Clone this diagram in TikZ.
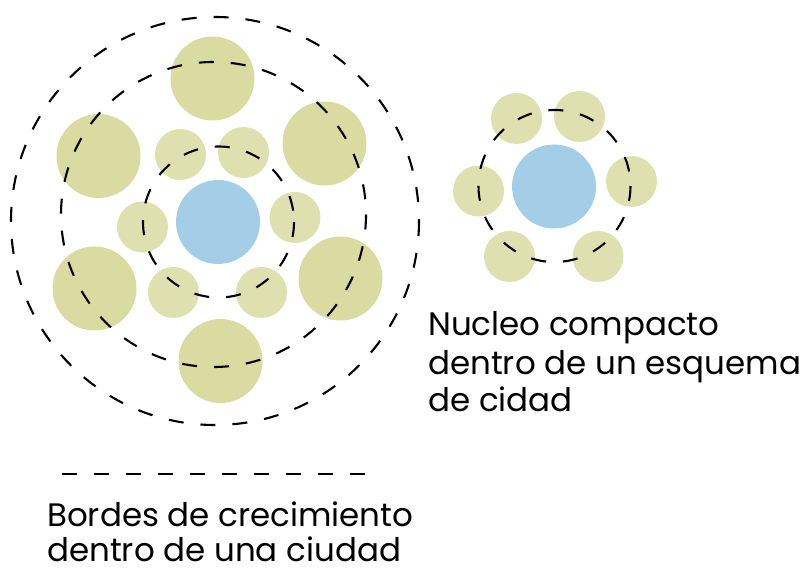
\documentclass[tikz,border=0pt]{standalone}
\usepackage{fontspec}
\setmainfont{Poppins}
\definecolor{bigg}{HTML}{D9DBA0}
\definecolor{smallg}{HTML}{DEE1AF}
\definecolor{core}{HTML}{A4CEE8}
\tikzset{
  bigc/.style={circle, fill=bigg, inner sep=0pt, minimum size=84pt},
  smallc/.style={circle, fill=smallg, inner sep=0pt, minimum size=51pt},
  corec/.style={circle, fill=core, inner sep=0pt, minimum size=84pt},
  ring/.style={draw=black, line width=2.1pt, dash pattern=on 15pt off 17pt},
  lbl/.style={anchor=base west, inner sep=0pt, text depth=0pt, font=\fontsize{32.5}{36}\selectfont}
}
\begin{document}
\begin{tikzpicture}[x=1pt,y=-1pt]
\useasboundingbox (0,0) rectangle (809,569);
% left figure
\node[bigc] (b1) at (212.5,78.5) {};
\node[bigc] (b2) at (98.5,156) {};
\node[bigc] (b3) at (324.5,143.5) {};
\node[bigc] (b4) at (94.5,288.5) {};
\node[bigc] (b5) at (340.5,278.5) {};
\node[bigc] (b6) at (220.5,361) {};
\node[smallc] (s1) at (180.5,154.5) {};
\node[smallc] (s2) at (243.5,152.5) {};
\node[smallc] (s3) at (142.5,227) {};
\node[smallc] (s4) at (295,217.5) {};
\node[smallc] (s5) at (173.5,292.5) {};
\node[smallc] (s6) at (261.5,292.5) {};
\node[corec] (c1) at (218,222) {};
\draw[ring] (215,221) circle (204);
\draw[ring] (213.5,214.5) circle (152.5);
\draw[ring] (218.5,222) circle (75.5);
% right figure
\node[smallc] (r1) at (516.5,118.5) {};
\node[smallc] (r2) at (579.5,116.5) {};
\node[smallc] (r3) at (478.5,191) {};
\node[smallc] (r4) at (631.5,181.5) {};
\node[smallc] (r5) at (509.5,256.5) {};
\node[smallc] (r6) at (598,256.5) {};
\node[corec] (c2) at (554,186.5) {};
\draw[ring] (554.5,186) circle (76);
% texts
\node[lbl] (t1) at (428,336) {Nucleo compacto};
\node[lbl] (t2) at (428,374) {dentro de un esquema};
\node[lbl] (t3) at (428,412) {de cidad};
\coordinate (la) at (62,474);
\coordinate (lb) at (368,474);
\draw[ring] (la) -- (lb);
\node[lbl] (t4) at (47,526) {Bordes de crecimiento};
\node[lbl] (t5) at (47,561.5) {dentro de una ciudad};
\end{tikzpicture}
\end{document}
